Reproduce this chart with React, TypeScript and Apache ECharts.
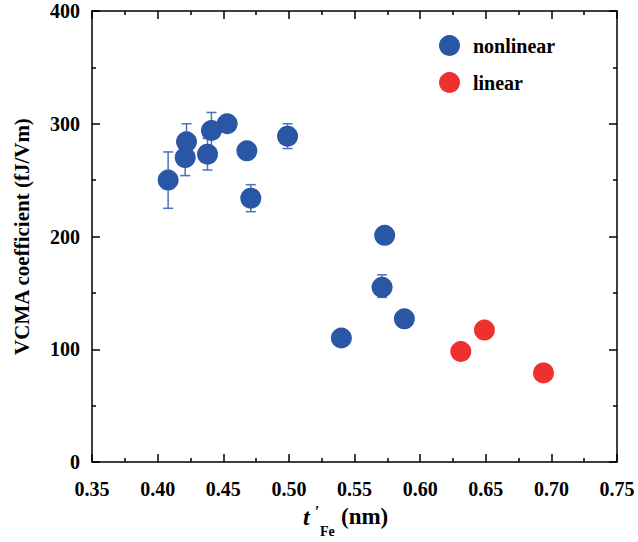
import React, { useEffect, useRef } from "react";
import * as echarts from "echarts";

const nonlinearX = [0.408, 0.421, 0.422, 0.438, 0.441, 0.453, 0.468, 0.471, 0.499, 0.540, 0.573, 0.571, 0.588];
const nonlinearY = [250, 270, 284, 273, 294, 300, 276, 234, 289, 110, 201, 155, 127];
const linearX = [0.631, 0.649, 0.694];
const linearY = [98, 117, 79];
const errX = [0.408, 0.421, 0.422, 0.438, 0.441, 0.471, 0.499, 0.571];
const errLow = [225, 254, 268, 259, 278, 222, 278, 146];
const errHigh = [275, 286, 300, 287, 310, 246, 300, 166];
const seriesNames = ["nonlinear", "linear"];

const FONT = '"Liberation Serif", "Times New Roman", serif';
const BLUE = "#2A56A6";
const RED = "#EE302E";
const ERR = "#4F72B8";

export default function App() {
  const ref = useRef<HTMLDivElement>(null);
  useEffect(() => {
    document.body.style.margin = "0";
    const chart = echarts.init(ref.current!, null, { renderer: "svg" });
    const axisCommon = {
      axisLine: { show: true, onZero: false, lineStyle: { color: "#000", width: 1.5 } },
      axisTick: { show: true, inside: true, length: 8, lineStyle: { color: "#000", width: 1.5 } },
      minorTick: { show: true, splitNumber: 2, length: 4, lineStyle: { color: "#000", width: 1.5 } },
      splitLine: { show: false },
    };
    const option: any = {
      animation: false,
      backgroundColor: "#fff",
      grid: { left: 92, right: 21, top: 11, bottom: 80 },
      legend: {
        orient: "vertical",
        left: 439,
        top: 35,
        padding: 0,
        itemWidth: 21,
        itemHeight: 21,
        itemGap: 16,
        icon: "circle",
        data: seriesNames,
        textStyle: { fontFamily: FONT, fontWeight: "bold", fontSize: 20, color: "#000", padding: [0, 0, 0, 8] },
      },
      xAxis: [
        {
          type: "value",
          position: "bottom",
          min: 0.35,
          max: 0.75,
          interval: 0.05,
          ...axisCommon,
          axisLabel: {
            margin: 17,
            fontFamily: FONT,
            fontWeight: "bold",
            fontSize: 20,
            color: "#000",
            formatter: (v: number) => v.toFixed(2),
          },
        },
        {
          type: "value",
          position: "top",
          min: 0.35,
          max: 0.75,
          interval: 0.05,
          ...axisCommon,
          axisLabel: { show: false },
        },
      ],
      yAxis: [
        {
          type: "value",
          position: "left",
          min: 0,
          max: 400,
          interval: 100,
          ...axisCommon,
          name: "VCMA coefficient (fJ/Vm)",
          nameLocation: "middle",
          nameGap: 60,
          nameTextStyle: { fontFamily: FONT, fontWeight: "bold", fontSize: 21, color: "#000" },
          axisLabel: { margin: 12, fontFamily: FONT, fontWeight: "bold", fontSize: 20, color: "#000" },
        },
        {
          type: "value",
          position: "right",
          min: 0,
          max: 400,
          interval: 100,
          ...axisCommon,
          axisLabel: { show: false },
        },
      ],
      graphic: [
        {
          type: "group",
          left: 303,
          top: 503,
          children: [
            { type: "text", x: 0, y: 4, style: { text: "t", font: `italic bold 24px ${FONT}`, fill: "#000" } },
            { type: "text", x: 12, y: 2, style: { text: "′", font: `bold 16px ${FONT}`, fill: "#000" } },
            { type: "text", x: 17, y: 23, style: { text: "Fe", font: `bold 14px ${FONT}`, fill: "#000" } },
            { type: "text", x: 38, y: 4, style: { text: "(nm)", font: `bold 23px ${FONT}`, fill: "#000" } },
          ],
        },
      ],
      series: [
        {
          type: "custom",
          name: "err",
          xAxisIndex: 0,
          yAxisIndex: 0,
          z: 1,
          data: errX.map((x, i) => [x, errLow[i], errHigh[i]]),
          encode: { x: 0, y: [1, 2] },
          renderItem: (params: any, api: any) => {
            const x = api.value(0);
            const p1 = api.coord([x, api.value(2)]);
            const p2 = api.coord([x, api.value(1)]);
            const w = 5;
            const st = { stroke: ERR, lineWidth: 1.5 };
            return {
              type: "group",
              children: [
                { type: "line", shape: { x1: p1[0], y1: p1[1], x2: p2[0], y2: p2[1] }, style: st },
                { type: "line", shape: { x1: p1[0] - w, y1: p1[1], x2: p1[0] + w, y2: p1[1] }, style: st },
                { type: "line", shape: { x1: p2[0] - w, y1: p2[1], x2: p2[0] + w, y2: p2[1] }, style: st },
              ],
            };
          },
        },
        {
          type: "scatter",
          name: seriesNames[0],
          z: 2,
          symbol: "circle",
          symbolSize: 21,
          itemStyle: { color: BLUE, opacity: 1 },
          data: nonlinearX.map((x, i) => [x, nonlinearY[i]]),
        },
        {
          type: "scatter",
          name: seriesNames[1],
          z: 2,
          symbol: "circle",
          symbolSize: 21,
          itemStyle: { color: RED, opacity: 1 },
          data: linearX.map((x, i) => [x, linearY[i]]),
        },
      ],
    };
    chart.setOption(option);
    return () => chart.dispose();
  }, []);
  return <div ref={ref} style={{ width: 638, height: 542 }} />;
}
